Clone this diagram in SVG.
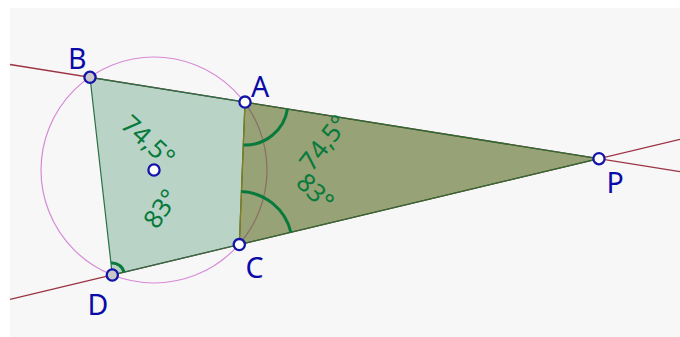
<svg xmlns="http://www.w3.org/2000/svg" width="680" height="337" viewBox="0 0 680 337">
<style>
.bg{fill:#f7f7f7}
.line{stroke:#9b3344;stroke-width:1.3;fill:none}
.circ{stroke:#d68ad6;stroke-width:1.2;fill:none}
.quad{fill:#006633;fill-opacity:0.25;stroke:#2a7045;stroke-width:1.2}
.tri{fill:#3f5500;fill-opacity:0.52;stroke:none}
.tedge{stroke:#2d6b35;stroke-width:1.3;fill:none}
.ac{stroke:#8a7d1a;stroke-width:1.2}
.arc{stroke:#087a3c;stroke-width:3;fill:none}
.alab{font-family:"Noto Sans","DejaVu Sans",sans-serif;font-size:25.5px;fill:#087a3c;text-anchor:middle;dominant-baseline:central}
.plab{font-family:"Noto Sans","DejaVu Sans",sans-serif;font-size:28.5px;fill:#0a0aa8}
.pt{stroke:#1414a8;stroke-width:2.3;fill:#ffffff}
.pt.on{fill:#c8c8c8}
</style>
<rect class="bg" x="10" y="8" width="670" height="329"/>
<g id="connectors">
<line class="line" x1="10" y1="64.5" x2="680" y2="171.7"/>
<line class="line" x1="10" y1="299.4" x2="680" y2="139.3"/>
<circle class="circ" cx="154" cy="170" r="113"/>
<polygon class="quad" points="90,77.3 245,102.1 239.3,244.6 112.3,275"/>
<polygon class="tri" points="245,102.1 599,158.7 239.3,244.6"/>
<line class="tedge" x1="245" y1="102.1" x2="599" y2="158.7"/>
<line class="tedge" x1="239.3" y1="244.6" x2="599" y2="158.7"/>
<line class="ac" x1="245" y1="102.1" x2="239.3" y2="244.6"/>
<path class="arc" d="M243.5,145 A43,43 0 0 0 287.5,108.9"/>
<path class="arc" d="M241.2,191.6 A53,53 0 0 1 290.9,232.5"/>
<path class="arc" d="M111,263 A12,12 0 0 1 124,272.3"/>
</g>
<g id="angle-labels">
<text class="alab" transform="translate(149,140) rotate(42)">74,5°</text>
<text class="alab" transform="translate(160,208) rotate(-55)">83°</text>
<text class="alab" transform="translate(323,142) rotate(-52)">74,5°</text>
<text class="alab" transform="translate(316,191) rotate(45)">83°</text>
</g>
<g id="B"><circle class="pt on" cx="90" cy="77.3" r="5.6"/><text class="plab" x="68" y="68.5">B</text></g>
<g id="A"><circle class="pt" cx="245" cy="102.1" r="5.6"/><text class="plab" x="251" y="96.5">A</text></g>
<g id="C"><circle class="pt" cx="239.3" cy="244.6" r="5.6"/><text class="plab" x="245.5" y="278">C</text></g>
<g id="D"><circle class="pt on" cx="112.3" cy="275" r="5.6"/><text class="plab" x="87.5" y="314.5">D</text></g>
<g id="P"><circle class="pt" cx="599" cy="158.7" r="5.6"/><text class="plab" x="606.5" y="193">P</text></g>
<g id="O"><circle class="pt" cx="154" cy="170" r="5.6"/></g>
</svg>
